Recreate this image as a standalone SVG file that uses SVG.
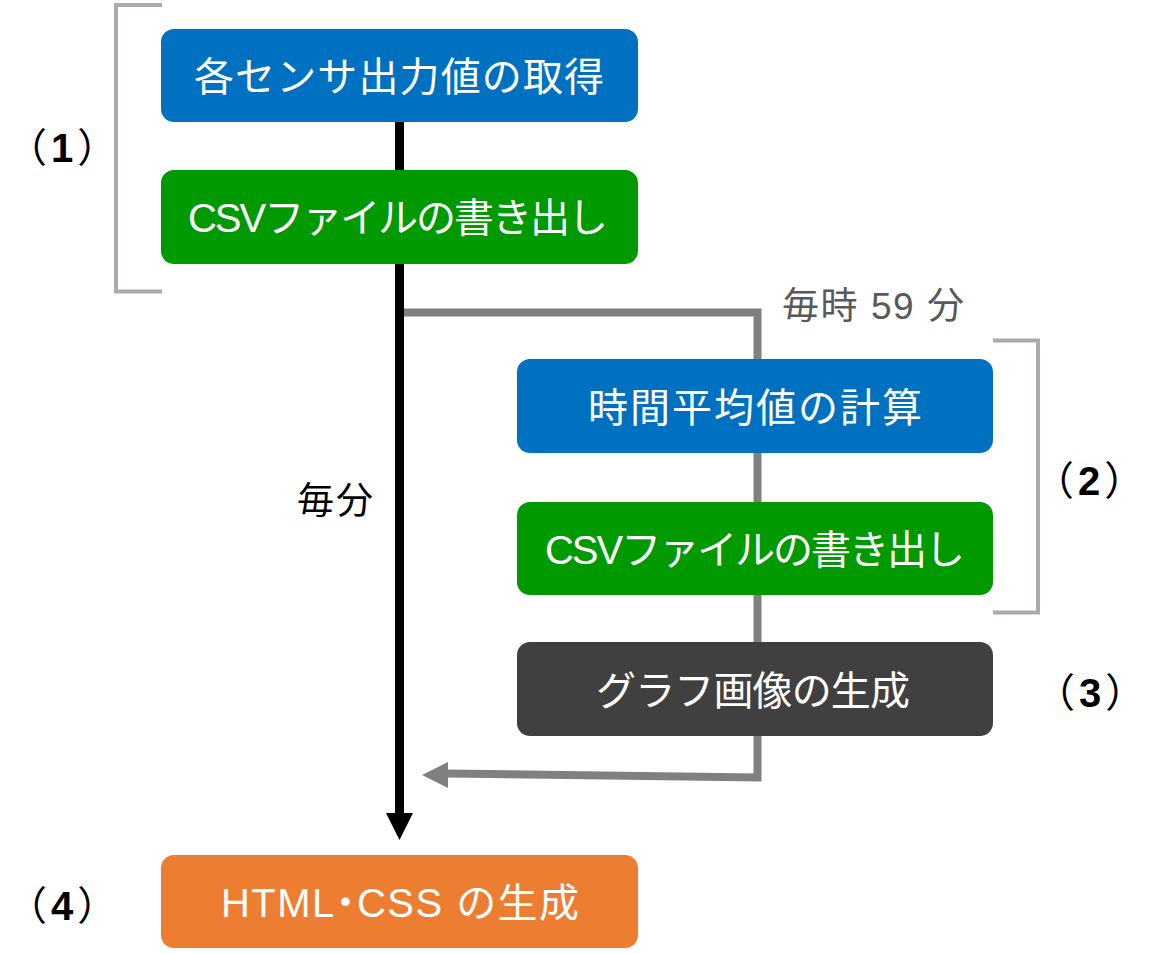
<svg xmlns="http://www.w3.org/2000/svg" width="1152" height="953" viewBox="0 0 1152 953">
  <style>
    .box-text { font-family: "Liberation Sans", "Noto Sans CJK JP", sans-serif; font-size: 40px; fill: #ffffff; text-anchor: middle; }
    .label { font-family: "Liberation Sans", "Noto Sans CJK JP", sans-serif; font-size: 40px; fill: #000000; text-anchor: middle; }
    .note { font-family: "Liberation Sans", "Noto Sans CJK JP", sans-serif; font-size: 37px; text-anchor: middle; }
    .half { font-feature-settings: "halt" 1; }
    .bracket { fill: none; stroke: #aeaaaa; stroke-width: 4; }
    .flow-main { fill: none; stroke: #000000; stroke-width: 9; }
    .flow-sub { fill: none; stroke: #808080; stroke-width: 8; }
  </style>
  <rect width="1152" height="953" fill="#ffffff"/>

  <g id="brackets">
    <path class="bracket" d="M162,5 H116 V291.5 H162"/>
    <path class="bracket" d="M993,340.5 H1038 V612.5 H993"/>
  </g>

  <g id="connectors">
    <line class="flow-main" x1="399.5" y1="122" x2="399.5" y2="815"/>
    <polygon points="386,813 413,813 399.5,840" fill="#000000"/>
    <path class="flow-sub" d="M404,312.5 H757.5 V777.5 L446,773.5"/>
    <polygon points="422,775 448,762 448,788" fill="#808080"/>
  </g>

  <g id="node-sensor">
    <rect x="161" y="29" width="477" height="93" rx="13" fill="#0070c0"/>
    <text class="box-text" x="399" y="91" textLength="410" lengthAdjust="spacing">各センサ出力値の取得</text>
  </g>
  <g id="node-csv1">
    <rect x="161" y="170" width="477" height="94" rx="13" fill="#009900"/>
    <text class="box-text" x="398" y="232" textLength="420" lengthAdjust="spacing">CSVファイルの書き出し</text>
  </g>
  <g id="node-average">
    <rect x="517" y="359" width="476" height="94" rx="13" fill="#0070c0"/>
    <text class="box-text" x="755" y="422" textLength="334" lengthAdjust="spacing">時間平均値の計算</text>
  </g>
  <g id="node-csv2">
    <rect x="517" y="502" width="476" height="93" rx="13" fill="#009900"/>
    <text class="box-text" x="755" y="564" textLength="420" lengthAdjust="spacing">CSVファイルの書き出し</text>
  </g>
  <g id="node-graph">
    <rect x="517" y="642" width="476" height="94" rx="13" fill="#404040"/>
    <text class="box-text" x="753" y="705" textLength="314" lengthAdjust="spacing">グラフ画像の生成</text>
  </g>
  <g id="node-html">
    <rect x="161" y="855" width="477" height="93" rx="13" fill="#ed7d31"/>
    <text class="box-text" x="400" y="917" textLength="358" lengthAdjust="spacing">HTML<tspan class="half">・</tspan>CSS の生成</text>
  </g>

  <g id="labels">
    <text class="label" x="62" y="162">（<tspan dx="4" font-weight="bold">1</tspan><tspan dx="4">）</tspan></text>
    <text class="label" x="1089" y="495">（<tspan dx="4" font-weight="bold">2</tspan><tspan dx="4">）</tspan></text>
    <text class="label" x="1090" y="707">（<tspan dx="4" font-weight="bold">3</tspan><tspan dx="4">）</tspan></text>
    <text class="label" x="62" y="920">（<tspan dx="4" font-weight="bold">4</tspan><tspan dx="4">）</tspan></text>
    <text class="note" x="335" y="514" fill="#000000" textLength="76" lengthAdjust="spacing">毎分</text>
    <text class="note" x="873" y="319" fill="#595959" textLength="182" lengthAdjust="spacing">毎時 59 分</text>
  </g>
</svg>
